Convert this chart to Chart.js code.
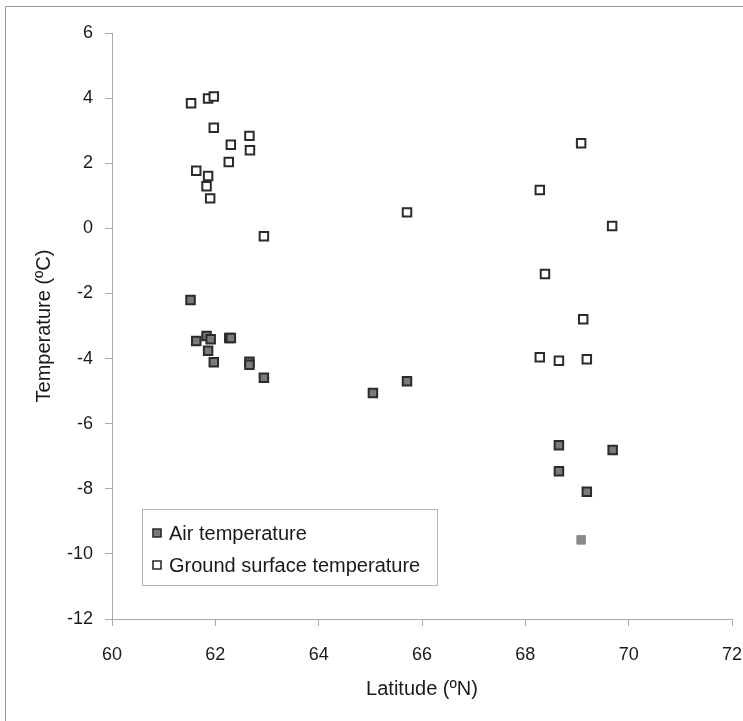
<!DOCTYPE html>
<html><head><meta charset="utf-8">
<script src="https://cdn.jsdelivr.net/npm/chart.js@4/dist/chart.umd.min.js"></script>
<style>
html,body{margin:0;padding:0;background:#fff;}
#wrap{position:absolute;left:0;top:0;width:743px;height:721px;}
#frame{position:absolute;left:5px;top:6px;width:740px;height:720px;border-left:1px solid #999;border-top:1px solid #999;}
canvas{position:absolute;left:0;top:0;}
</style></head><body>
<div id="wrap"><div id="frame"></div><canvas id="c" width="743" height="721"></canvas></div>
<script>
const seriesNames = ["Air temperature", "Ground surface temperature"];
const airLat  = [61.52, 61.63, 61.83, 61.91, 61.86, 61.97, 62.27, 62.30, 62.66, 62.66, 62.94, 65.05, 65.71, 68.65, 69.69, 68.65, 69.19];
const airTemp = [-2.20, -3.46, -3.31, -3.41, -3.76, -4.11, -3.37, -3.37, -4.10, -4.19, -4.59, -5.06, -4.70, -6.66, -6.81, -7.46, -8.09];
const airExtraLat  = [69.08];
const airExtraTemp = [-9.57];
const groundLat  = [61.53, 61.86, 61.97, 61.97, 62.66, 62.30, 62.67, 62.26, 61.63, 61.86, 61.83, 61.90, 62.94, 65.71, 69.08, 68.28, 69.68, 68.38, 69.12, 68.28, 68.65, 69.19];
const groundTemp = [3.84, 3.99, 4.05, 3.09, 2.84, 2.57, 2.40, 2.04, 1.77, 1.61, 1.29, 0.92, -0.24, 0.49, 2.61, 1.18, 0.07, -1.40, -2.79, -3.96, -4.07, -4.02];
const xTicks = [60, 62, 64, 66, 68, 70, 72];
const yTicks = [-12, -10, -8, -6, -4, -2, 0, 2, 4, 6];

const toPts = (xs, ys) => xs.map((x, i) => ({x: x, y: ys[i]}));
const FONT = "'Liberation Sans', Arial, sans-serif";
const AIR_FILL = '#7a7a7a', EDGE = '#2b2b2b';

const legendPlugin = {
  id: 'boxLegend',
  afterDraw(chart) {
    const ctx = chart.ctx, a = chart.chartArea;
    const bx = a.left + 30, by = a.bottom - 110, bw = 295, bh = 76;
    ctx.save();
    ctx.strokeStyle = '#b5b5b5'; ctx.lineWidth = 1;
    ctx.strokeRect(bx + 0.5, by + 0.5, bw, bh);
    const items = [
      {label: seriesNames[0], fill: AIR_FILL},
      {label: seriesNames[1], fill: '#ffffff'}
    ];
    ctx.font = '20px ' + FONT;
    ctx.textBaseline = 'middle';
    items.forEach((it, i) => {
      const cy = by + 24 + i * 32;
      ctx.fillStyle = it.fill; ctx.strokeStyle = EDGE; ctx.lineWidth = 1.6;
      ctx.beginPath(); ctx.rect(bx + 11, cy - 4, 8, 8); ctx.fill(); ctx.stroke();
      ctx.fillStyle = '#1a1a1a';
      ctx.fillText(it.label, bx + 27, cy + 1);
    });
    ctx.restore();
  }
};

new Chart(document.getElementById('c'), {
  type: 'scatter',
  data: {
    datasets: [
      {label: seriesNames[1], data: toPts(groundLat, groundTemp), pointStyle: 'rect', pointRadius: 6, pointHoverRadius: 6,
       backgroundColor: '#ffffff', borderColor: EDGE, borderWidth: 2},
      {label: seriesNames[0], data: toPts(airLat, airTemp), pointStyle: 'rect', pointRadius: 6, pointHoverRadius: 6,
       backgroundColor: AIR_FILL, borderColor: EDGE, borderWidth: 2},
      {label: seriesNames[0] + ' ', data: toPts(airExtraLat, airExtraTemp), pointStyle: 'rect', pointRadius: 6, pointHoverRadius: 6,
       backgroundColor: '#8a8a8a', borderColor: '#8a8a8a', borderWidth: 1}
    ]
  },
  options: {
    responsive: false, animation: false,
    layout: {padding: {left: 0, top: 33, right: 0, bottom: 0}},
    plugins: {legend: {display: false}, tooltip: {enabled: false}},
    scales: {
      x: {
        type: 'linear', min: 60, max: 72,
        afterBuildTicks: s => { s.ticks = xTicks.map(v => ({value: v})); },
        afterFit: s => { s.height = 102; s.paddingRight = 11; s.paddingLeft = 0; },
        border: {color: '#aaaaaa', width: 1},
        grid: {drawOnChartArea: false, color: '#aaaaaa', tickLength: 7},
        ticks: {color: '#1a1a1a', font: {size: 18, family: FONT}, padding: 18, maxRotation: 0},
        title: {display: true, text: 'Latitude (ºN)', color: '#1a1a1a', font: {size: 20, family: FONT}, padding: {top: 0, bottom: 20}}
      },
      y: {
        type: 'linear', min: -12, max: 6,
        afterBuildTicks: s => { s.ticks = yTicks.map(v => ({value: v})); },
        afterFit: s => { s.width = 112; },
        border: {color: '#aaaaaa', width: 1},
        grid: {drawOnChartArea: false, color: '#aaaaaa', tickLength: 7},
        ticks: {color: '#1a1a1a', font: {size: 18, family: FONT}, padding: 12},
        title: {display: true, text: 'Temperature (ºC)', color: '#1a1a1a', font: {size: 20, family: FONT}, padding: {top: 32, bottom: 0}}
      }
    }
  },
  plugins: [legendPlugin]
});
</script>
</body></html>
